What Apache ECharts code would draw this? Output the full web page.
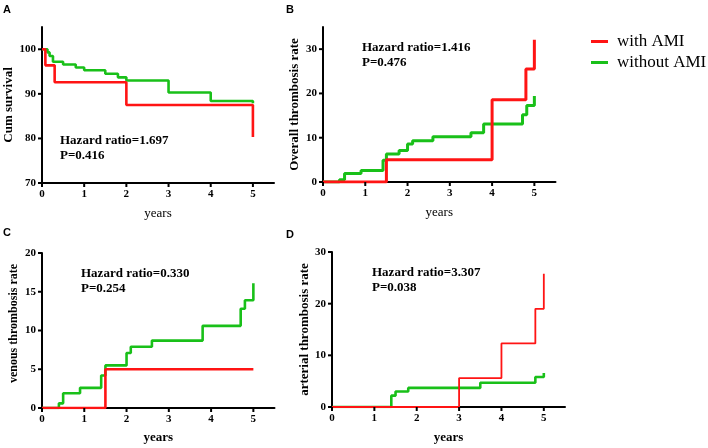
<!DOCTYPE html>
<html>
<head>
<meta charset="utf-8">
<script src="https://cdn.jsdelivr.net/npm/echarts@6/dist/echarts.min.js"></script>
<style>
html,body{margin:0;padding:0;background:#fff;}
#c{width:708px;height:448px;}
</style>
</head>
<body>
<div id="c"></div>
<script>
// ---- Data ----
var seriesNames = ['with AMI', 'without AMI'];
var panelLetters = ['A', 'B', 'C', 'D'];
var yTitles = ['Cum survival', 'Overall thrombosis rate', 'venous thrombosis rate', 'arterial thrombosis rate'];
var xTitle = 'years';
var hazardTexts = ['Hazard ratio=1.697', 'Hazard ratio=1.416', 'Hazard ratio=0.330', 'Hazard ratio=3.307'];
var pTexts = ['P=0.416', 'P=0.476', 'P=0.254', 'P=0.038'];

var xTicks = [0, 1, 2, 3, 4, 5];
var yTicksA = [70, 80, 90, 100];
var yTicksB = [0, 10, 20, 30];
var yTicksC = [0, 5, 10, 15, 20];
var yTicksD = [0, 10, 20, 30];

// Panel A: Cum survival
var aWithT = [0, 0.08, 0.3, 2, 5];
var aWithV = [100, 96.4, 92.6, 87.5, 80.3];
var aWithoutT = [0, 0.13, 0.18, 0.26, 0.5, 0.8, 1.0, 1.5, 1.8, 2.0, 3.0, 4.0, 5.0];
var aWithoutV = [100, 99.3, 98.5, 97.2, 96.6, 95.9, 95.3, 94.5, 93.7, 93.0, 90.3, 88.4, 87.9];

// Panel B: Overall thrombosis rate
var bWithT = [0, 1.5, 4, 4.8, 5];
var bWithV = [0, 5.0, 18.6, 25.5, 32.1];
var bWithoutT = [0, 0.39, 0.51, 0.9, 1.42, 1.5, 1.8, 2.0, 2.12, 2.6, 3.5, 3.8, 4.72, 4.82, 5.0];
var bWithoutV = [0, 0.5, 1.9, 2.6, 4.9, 6.3, 7.1, 8.6, 9.3, 10.2, 11.1, 13.1, 15.2, 17.3, 19.4];

// Panel C: venous thrombosis rate
var cWithT = [0, 1.5, 5];
var cWithV = [0, 5.0, 5.0];
var cWithoutT = [0, 0.4, 0.5, 0.9, 1.4, 1.5, 2.0, 2.1, 2.6, 3.8, 4.7, 4.8, 5.0];
var cWithoutV = [0, 0.6, 1.9, 2.6, 4.2, 5.5, 7.1, 7.9, 8.7, 10.6, 12.8, 13.9, 16.1];

// Panel D: arterial thrombosis rate
var dWithT = [0, 3, 4, 4.8, 5];
var dWithV = [0, 5.6, 12.3, 19.0, 25.8];
var dWithoutT = [0, 1.4, 1.5, 1.8, 3.5, 4.8, 5.0];
var dWithoutV = [0, 2.2, 3.0, 3.7, 4.7, 5.8, 6.6];

// ---- Build ----
function zip(t, v) { return t.map(function (x, i) { return [x, v[i]]; }); }

var RED = '#ff1414';
var GREEN = '#19c019';
var SERIF = '"Liberation Serif", "Times New Roman", serif';

var grids = [
  {left: 42, top: 27, width: 232, height: 156},
  {left: 323, top: 27, width: 232.5, height: 155},
  {left: 42, top: 253, width: 232.5, height: 155},
  {left: 332, top: 252, width: 233, height: 155}
];
var yRanges = [[70, 105], [0, 35], [0, 20], [0, 30]];
var yTickSets = [yTicksA, yTicksB, yTicksC, yTicksD];
var yNameGaps = [25, 22, 22, 19];
var yNameSize = [13, 13, 12, 13];
var yNamePad = [[0, 0, 0, 0], [0, 0, 0, 0], [0, 0, 0, 14], [0, 0, 0, 0]];
var xNameGaps = [24, 24, 23, 24];
var xNameBold = ['normal', 'normal', 'bold', 'bold'];
var widths = [[2.6, 2.6], [3, 3], [2.6, 2.6], [1.8, 2.6]];
var pairs = [
  [zip(aWithT, aWithV), zip(aWithoutT, aWithoutV)],
  [zip(bWithT, bWithV), zip(bWithoutT, bWithoutV)],
  [zip(cWithT, cWithV), zip(cWithoutT, cWithoutV)],
  [zip(dWithT, dWithV), zip(dWithoutT, dWithoutV)]
];

var TICK = 4;
function xTickRender(params, api) {
  var p = api.coord([api.value(0), api.value(1)]);
  return {type: 'line', shape: {x1: p[0], y1: p[1], x2: p[0], y2: p[1] + TICK},
          style: {stroke: '#000', lineWidth: 2}};
}
function yTickRender(params, api) {
  var p = api.coord([api.value(0), api.value(1)]);
  return {type: 'line', shape: {x1: p[0] - TICK, y1: p[1], x2: p[0], y2: p[1]},
          style: {stroke: '#000', lineWidth: 2}};
}

var axisLineStyle = {color: '#000', width: 2};
var xAxes = [], yAxes = [], series = [];
for (var i = 0; i < 4; i++) {
  xAxes.push({
    type: 'value', gridIndex: i, min: 0, max: 5.5,
    name: xTitle, nameLocation: 'middle', nameGap: xNameGaps[i],
    nameTextStyle: {fontFamily: SERIF, fontSize: 13, fontWeight: xNameBold[i], color: '#000'},
    axisLine: {show: true, onZero: false, lineStyle: axisLineStyle},
    axisTick: {show: false},
    axisLabel: {fontFamily: SERIF, fontSize: 11, fontWeight: 'bold', color: '#000', margin: 6, customValues: xTicks},
    splitLine: {show: false}
  });
  yAxes.push({
    type: 'value', gridIndex: i, min: yRanges[i][0], max: yRanges[i][1],
    name: yTitles[i], nameLocation: 'middle', nameGap: yNameGaps[i], nameRotate: 90,
    nameTextStyle: {fontFamily: SERIF, fontSize: yNameSize[i], fontWeight: 'bold', color: '#000', padding: yNamePad[i]},
    axisLine: {show: true, onZero: false, lineStyle: axisLineStyle},
    axisTick: {show: false},
    axisLabel: {fontFamily: SERIF, fontSize: 11, fontWeight: 'bold', color: '#000', margin: 6, customValues: yTickSets[i]},
    splitLine: {show: false}
  });
  for (var s = 0; s < 2; s++) {
    series.push({
      type: 'line', name: seriesNames[s], xAxisIndex: i, yAxisIndex: i,
      step: 'end', showSymbol: false, symbol: 'none', animation: false,
      data: pairs[i][s], z: s === 0 ? 3 : 2,
      lineStyle: {color: s === 0 ? RED : GREEN, width: widths[i][s]},
      itemStyle: {color: s === 0 ? RED : GREEN}
    });
  }
  var yMin = yRanges[i][0];
  series.push({
    type: 'custom', name: 'xticks' + i, xAxisIndex: i, yAxisIndex: i, silent: true, clip: false, z: 5,
    renderItem: xTickRender,
    data: xTicks.map(function (v) { return [v, yMin]; })
  });
  series.push({
    type: 'custom', name: 'yticks' + i, xAxisIndex: i, yAxisIndex: i, silent: true, clip: false, z: 5,
    renderItem: yTickRender,
    data: yTickSets[i].map(function (v) { return [0, v]; })
  });
}

var letterPos = [[3, 4], [286, 4], [3, 227], [286, 229]];
var hrPos = [[60, 133], [362, 40], [81, 266], [372, 265]];
var graphics = [];
for (var k = 0; k < 4; k++) {
  graphics.push({
    type: 'text', left: letterPos[k][0], top: letterPos[k][1],
    style: {text: panelLetters[k], font: 'bold 11px "Liberation Sans", Arial, sans-serif', fill: '#000'}
  });
  graphics.push({
    type: 'text', left: hrPos[k][0], top: hrPos[k][1],
    style: {text: hazardTexts[k] + '\n' + pTexts[k], font: 'bold 13px ' + SERIF, fill: '#000', lineHeight: 15}
  });
}

var chart = echarts.init(document.getElementById('c'), null, {renderer: 'canvas'});
chart.setOption({
  animation: false,
  backgroundColor: '#fff',
  grid: grids.map(function (g) { return Object.assign({outerBoundsMode: 'none', containLabel: false}, g); }),
  xAxis: xAxes,
  yAxis: yAxes,
  series: series,
  legend: {
    data: seriesNames, orient: 'vertical', left: 586, top: 28,
    icon: 'rect', itemWidth: 17, itemHeight: 3, itemGap: 4,
    textStyle: {fontFamily: SERIF, fontSize: 17, color: '#000', padding: [0, 0, 0, 4]}
  },
  graphic: graphics
});
</script>
</body>
</html>
